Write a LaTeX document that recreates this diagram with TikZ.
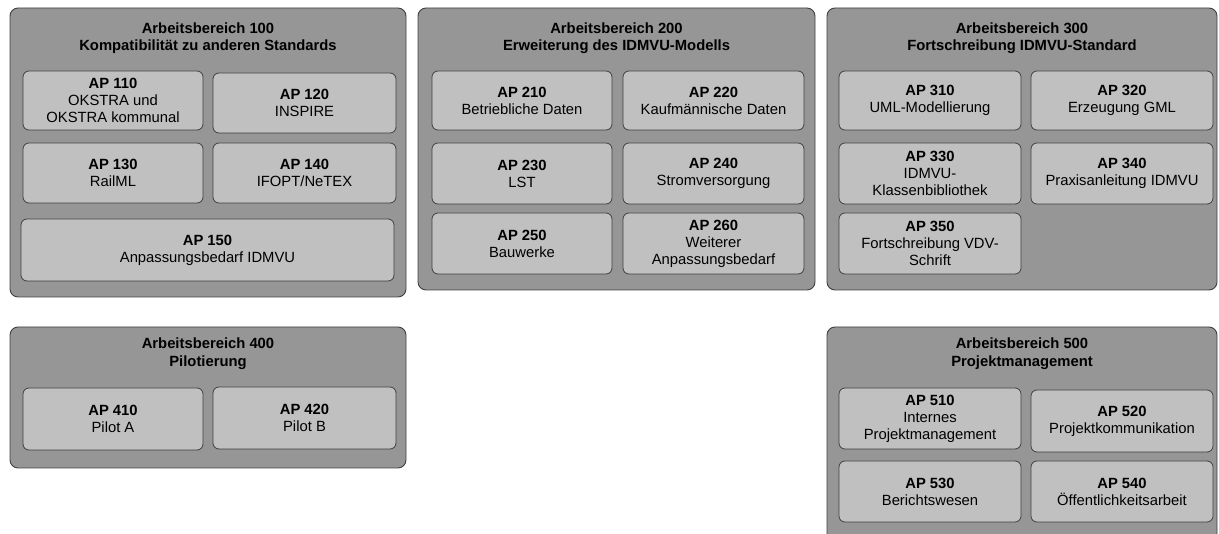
\documentclass[tikz,border=0pt]{standalone}
\usepackage{fontspec}
\setmainfont{Liberation Sans}
\definecolor{outerfill}{HTML}{969696}
\definecolor{innerfill}{HTML}{C0C0C0}
\definecolor{edge}{HTML}{404040}
\begin{document}
\begin{tikzpicture}[x=1pt,y=-1pt,
  area/.style={draw=edge, line width=0.9pt, fill=outerfill, rounded corners=8pt, inner sep=0pt},
  pkg/.style={draw=edge, line width=0.8pt, fill=innerfill, rounded corners=6pt, minimum width=180pt, minimum height=60pt, inner sep=0pt, align=center, font=\fontsize{14.8}{17}\selectfont},
  title/.style={align=center, inner sep=0pt, font=\fontsize{14.8}{17.5}\selectfont\bfseries}]
\useasboundingbox (0,0) rectangle (1219,534);
\clip (0,0) rectangle (1219,534);
% areas
\node[area, minimum width=396pt, minimum height=289pt] (ab100) at (208,152.5) {};
\node[area, minimum width=397pt, minimum height=282pt] (ab200) at (616.5,149) {};
\node[area, minimum width=390pt, minimum height=282pt] (ab300) at (1022,149) {};
\node[area, minimum width=396pt, minimum height=141pt] (ab400) at (208,397.5) {};
\node[area, minimum width=390pt, minimum height=218pt] (ab500) at (1022,436) {};
% titles
\node[title] (t100) at (208,38) {Arbeitsbereich 100\\Kompatibilität zu anderen Standards};
\node[title] (t200) at (616.5,38) {Arbeitsbereich 200\\Erweiterung des IDMVU-Modells};
\node[title] (t300) at (1022,38) {Arbeitsbereich 300\\Fortschreibung IDMVU-Standard};
\node[title] (t400) at (208,353.5) {Arbeitsbereich 400\\Pilotierung};
\node[title] (t500) at (1022,353.5) {Arbeitsbereich 500\\Projektmanagement};
% AB 100
\node[pkg, minimum height=59pt] (ap110) at (113,100.5) {\textbf{AP 110}\\OKSTRA und\\OKSTRA kommunal};
\node[pkg, minimum width=183pt] (ap120) at (304.5,103) {\textbf{AP 120}\\INSPIRE};
\node[pkg] (ap130) at (113,173) {\textbf{AP 130}\\RailML};
\node[pkg, minimum width=183pt] (ap140) at (304.5,173) {\textbf{AP 140}\\IFOPT/NeTEX};
\node[pkg, minimum width=373pt, minimum height=62pt] (ap150) at (207.5,250) {\textbf{AP 150}\\Anpassungsbedarf IDMVU};
% AB 200
\node[pkg, minimum height=59pt] (ap210) at (522,100.5) {\textbf{AP 210}\\Betriebliche Daten};
\node[pkg, minimum width=181pt, minimum height=59pt] (ap220) at (713.5,100.5) {\textbf{AP 220}\\Kaufmännische Daten};
\node[pkg, minimum height=61pt] (ap230) at (522,173.5) {\textbf{AP 230}\\LST};
\node[pkg, minimum width=181pt, minimum height=61pt] (ap240) at (713.5,173.5) {\textbf{AP 240}\\Stromversorgung};
\node[pkg, minimum height=61pt] (ap250) at (522,243.5) {\textbf{AP 250}\\Bauwerke};
\node[pkg, minimum width=181pt, minimum height=61pt] (ap260) at (713.5,243.5) {\textbf{AP 260}\\Weiterer\\Anpassungsbedarf};
% AB 300
\node[pkg, minimum width=182pt, minimum height=59pt] (ap310) at (930,100.5) {\textbf{AP 310}\\UML-Modellierung};
\node[pkg, minimum width=182pt, minimum height=59pt] (ap320) at (1122,100.5) {\textbf{AP 320}\\Erzeugung GML};
\node[pkg, minimum width=182pt, minimum height=61pt] (ap330) at (930,173.5) {\textbf{AP 330}\\IDMVU-\\Klassenbibliothek};
\node[pkg, minimum width=182pt, minimum height=61pt] (ap340) at (1122,173.5) {\textbf{AP 340}\\Praxisanleitung IDMVU};
\node[pkg, minimum width=182pt, minimum height=61pt] (ap350) at (930,243.5) {\textbf{AP 350}\\Fortschreibung VDV-\\Schrift};
% AB 400
\node[pkg, minimum height=62pt] (ap410) at (113,419) {\textbf{AP 410}\\Pilot A};
\node[pkg, minimum width=183pt, minimum height=62pt] (ap420) at (304.5,418) {\textbf{AP 420}\\Pilot B};
% AB 500
\node[pkg, minimum width=182pt, minimum height=61pt] (ap510) at (930,418.5) {\textbf{AP 510}\\Internes\\Projektmanagement};
\node[pkg, minimum width=182pt, minimum height=62pt] (ap520) at (1122,421) {\textbf{AP 520}\\Projektkommunikation};
\node[pkg, minimum width=182pt, minimum height=61pt] (ap530) at (930,491.5) {\textbf{AP 530}\\Berichtswesen};
\node[pkg, minimum width=182pt, minimum height=61pt] (ap540) at (1122,491.5) {\textbf{AP 540}\\Öffentlichkeitsarbeit};
\end{tikzpicture}
\end{document}
